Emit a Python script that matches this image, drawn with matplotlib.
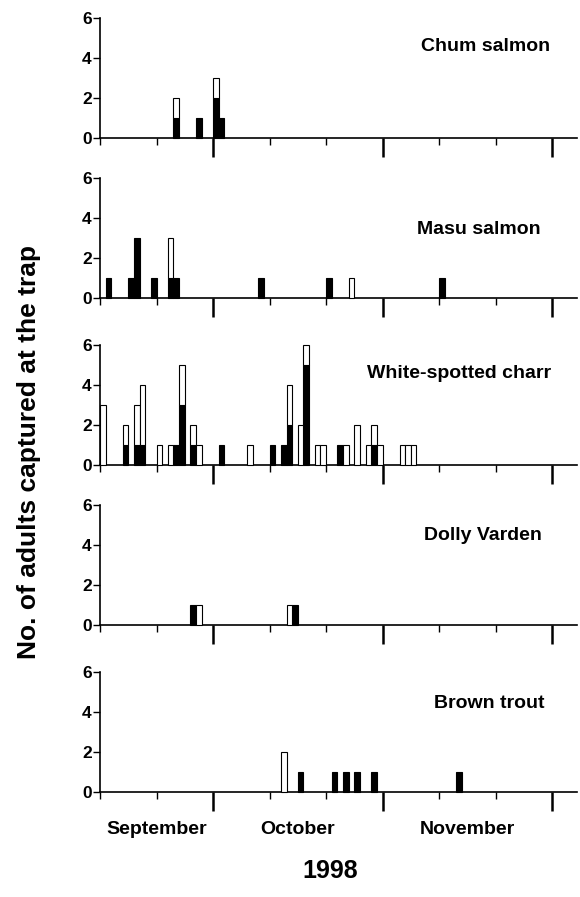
import matplotlib
matplotlib.use("Agg")
import matplotlib.pyplot as plt

plt.rcParams['font.family'] = ['Liberation Sans', 'DejaVu Sans']
plt.rcParams['font.weight'] = 'bold'

# Day of each catch, counted from 1 September 1998 (= day 0)
# black = lower part of the bar, white = upper part of the bar
chum_days = [23, 27, 30, 31]
chum_black = [1, 1, 2, 1]
chum_white = [1, 0, 1, 0]

masu_days = [11, 15, 16, 19, 22, 23, 38, 50, 54, 70]
masu_black = [1, 1, 3, 1, 1, 1, 1, 1, 0, 1]
masu_white = [0, 0, 0, 0, 2, 0, 0, 0, 1, 0]

charr_days = [10, 14, 16, 17, 20, 22, 23, 24, 26, 27, 31, 36, 40, 42, 43,
              45, 46, 48, 49, 52, 53, 55, 57, 58, 59, 63, 64, 65]
charr_black = [0, 1, 1, 1, 0, 0, 1, 3, 1, 0, 1, 0, 1, 1, 2,
               0, 5, 0, 0, 1, 0, 0, 0, 1, 0, 0, 0, 0]
charr_white = [3, 1, 2, 3, 1, 1, 0, 2, 1, 1, 0, 1, 0, 0, 2,
               2, 1, 1, 1, 0, 1, 2, 1, 1, 1, 1, 1, 1]

dolly_days = [26, 27, 43, 44]
dolly_black = [1, 0, 0, 1]
dolly_white = [0, 1, 1, 0]

brown_days = [42, 45, 51, 53, 55, 58, 73]
brown_black = [0, 1, 1, 1, 1, 1, 1]
brown_white = [2, 0, 0, 0, 0, 0, 0]

species = ["Chum salmon", "Masu salmon", "White-spotted charr",
           "Dolly Varden", "Brown trout"]
panels = [(chum_days, chum_black, chum_white),
          (masu_days, masu_black, masu_white),
          (charr_days, charr_black, charr_white),
          (dolly_days, dolly_black, dolly_white),
          (brown_days, brown_black, brown_white)]
months = ["September", "October", "November"]
month_mid = [20, 45, 75]

# layout (figure pixels)
W, H = 580, 897
zero_px = [138.3, 298.3, 465.0, 625.0, 791.7]
panel_h = 120
title_x = [89.6, 87.9, 89.9, 88.1, 88.7]
title_y = [4.6, 3.45, 4.6, 4.5, 4.4]

fig = plt.figure(figsize=(W / 100, H / 100), dpi=100)

for i, (days, black, white) in enumerate(panels):
    ax = fig.add_axes([100 / W, 1 - zero_px[i] / H, 477 / W, panel_h / H])

    bd = [d for d, b in zip(days, black) if b > 0]
    bv = [b for b in black if b > 0]
    ax.bar(bd, bv, width=1, align='edge', color='black',
           edgecolor='black', linewidth=0.8, clip_on=False, zorder=3)
    wd = [d for d, w in zip(days, white) if w > 0]
    wv = [w for w in white if w > 0]
    wb = [b for b, w in zip(black, white) if w > 0]
    ax.bar(wd, wv, bottom=wb, width=1, align='edge', color='white',
           edgecolor='black', linewidth=0.8, clip_on=False, zorder=3)

    ax.set_xlim(10, 94.4)
    ax.set_ylim(0, 6)
    for s in ['top', 'right']:
        ax.spines[s].set_visible(False)
    ax.spines['left'].set_linewidth(1.2)
    ax.spines['bottom'].set_linewidth(1.2)

    ax.set_xticks([30, 60, 90])
    ax.set_xticks([10, 20, 40, 50, 70, 80], minor=True)
    ax.tick_params(axis='x', which='major', direction='out', length=14,
                   width=1.8, labelbottom=False)
    ax.tick_params(axis='x', which='minor', direction='out', length=5,
                   width=1.0)
    ax.set_yticks([0, 2, 4, 6])
    ax.tick_params(axis='y', direction='out', length=5, width=1.0, pad=1,
                   labelsize=12.5)

    ax.text(title_x[i], title_y[i], species[i], ha='right', va='center',
            fontsize=14, fontweight='bold')

    if i == len(panels) - 1:
        for m, x in zip(months, month_mid):
            ax.text(x, -1.9, m, ha='center', va='center', fontsize=14,
                    fontweight='bold', clip_on=False)

fig.text(29 / W, 1 - 452 / H, "No. of adults captured at the trap",
         rotation=90, ha='center', va='center', fontsize=19,
         fontweight='bold')
fig.text(330 / W, 1 - 871 / H, "1998", ha='center', va='center',
         fontsize=18, fontweight='bold')

fig.savefig("out.png", dpi=100)
